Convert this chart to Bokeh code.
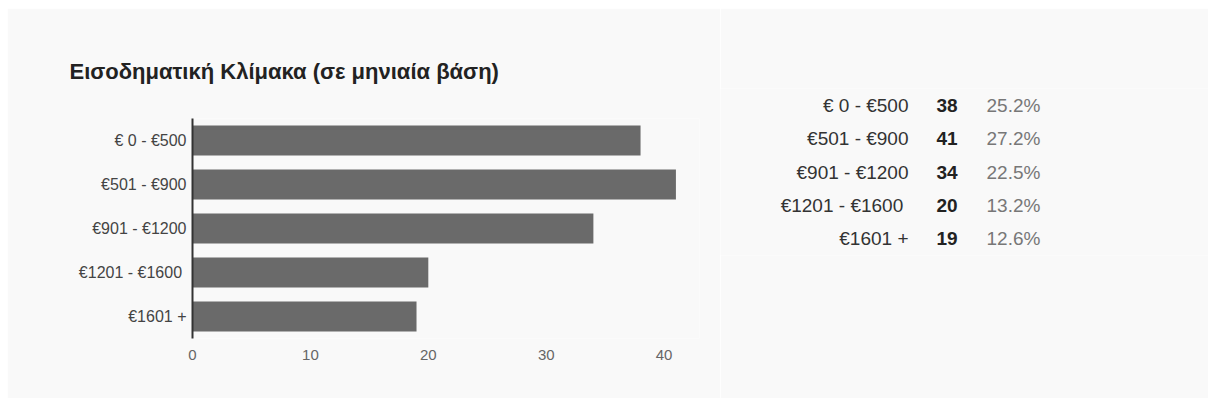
from bokeh.plotting import figure
from bokeh.models import ColumnDataSource, FactorRange, Range1d, FixedTicker
from bokeh.layouts import row
from bokeh.core.properties import value
from bokeh.embed import file_html
from bokeh.resources import INLINE

# ---- data ----
title_text = "Εισοδηματική Κλίμακα (σε μηνιαία βάση)"
categories = ["€ 0 - €500", "€501 - €900", "€901 - €1200", "€1201 -  €1600", "€1601 +"]
counts = [38, 41, 34, 20, 19]
percents = ["25.2%", "27.2%", "22.5%", "13.2%", "12.6%"]
x_ticks = [0, 10, 20, 30, 40]

BG = "#f9f9f9"
FONT = "Liberation Sans"

src = ColumnDataSource(dict(cat=categories, n=counts, pct=percents,
                            nlab=[str(c) for c in counts]))

# ---- bar chart ----
p1 = figure(width=713, height=390, output_backend="svg", toolbar_location=None,
            y_range=FactorRange(*reversed(categories), range_padding=0),
            x_range=Range1d(0, 43),
            min_border_left=185, min_border_right=21, min_border_top=110,
            min_border_bottom=60, title=title_text)
p1.frame_align = False
p1.hbar(y="cat", right="n", height=0.68, source=src, fill_color="#6a6a6a",
        line_color=None)
p1.background_fill_color = BG
p1.border_fill_color = BG
p1.outline_line_color = None
p1.grid.visible = False

p1.title.align = "left"
p1.title.offset = -123
p1.title.standoff = 69
p1.title.text_font = FONT
p1.title.text_font_size = "22px"
p1.title.text_font_style = "bold"
p1.title.text_color = "#222222"

p1.xaxis.ticker = FixedTicker(ticks=x_ticks)
p1.xaxis.axis_line_color = None
p1.xaxis.major_tick_line_color = None
p1.xaxis.minor_tick_line_color = None
p1.xaxis.major_label_standoff = 5
p1.xaxis.major_label_text_font = FONT
p1.xaxis.major_label_text_font_size = "15px"
p1.xaxis.major_label_text_color = "#666666"

p1.yaxis.axis_line_color = "#333333"
p1.yaxis.axis_line_width = 2
p1.yaxis.major_tick_line_color = None
p1.yaxis.minor_tick_line_color = None
p1.yaxis.major_label_standoff = 0
p1.yaxis.major_label_text_font = FONT
p1.yaxis.major_label_text_font_size = "16px"
p1.yaxis.major_label_text_color = "#444444"

# ---- summary table ----
p2 = figure(width=488, height=390, output_backend="svg", toolbar_location=None,
            y_range=FactorRange(*reversed(categories), range_padding=0),
            x_range=Range1d(0, 488),
            min_border_left=0, min_border_right=0, min_border_top=80,
            min_border_bottom=143)
p2.frame_align = False
p2.background_fill_color = BG
p2.border_fill_color = BG
p2.outline_line_color = None
p2.grid.visible = False
p2.axis.visible = False

p2.text(x=188, y="cat", text="cat", source=src, text_align="right",
        text_baseline="middle", text_font=value(FONT), text_font_size="19px",
        text_color="#333333")
p2.text(x=216, y="cat", text="nlab", source=src, text_align="left",
        text_baseline="middle", text_font=value(FONT), text_font_size="19px",
        text_font_style="bold", text_color="#222222")
p2.text(x=266, y="cat", text="pct", source=src, text_align="left",
        text_baseline="middle", text_font=value(FONT), text_font_size="19px",
        text_color="#777777")

layout = row(p1, p2, spacing=0)
layout.margin = (8, 0, 12, 7)

open("out.html", "w").write(file_html(layout, INLINE))
